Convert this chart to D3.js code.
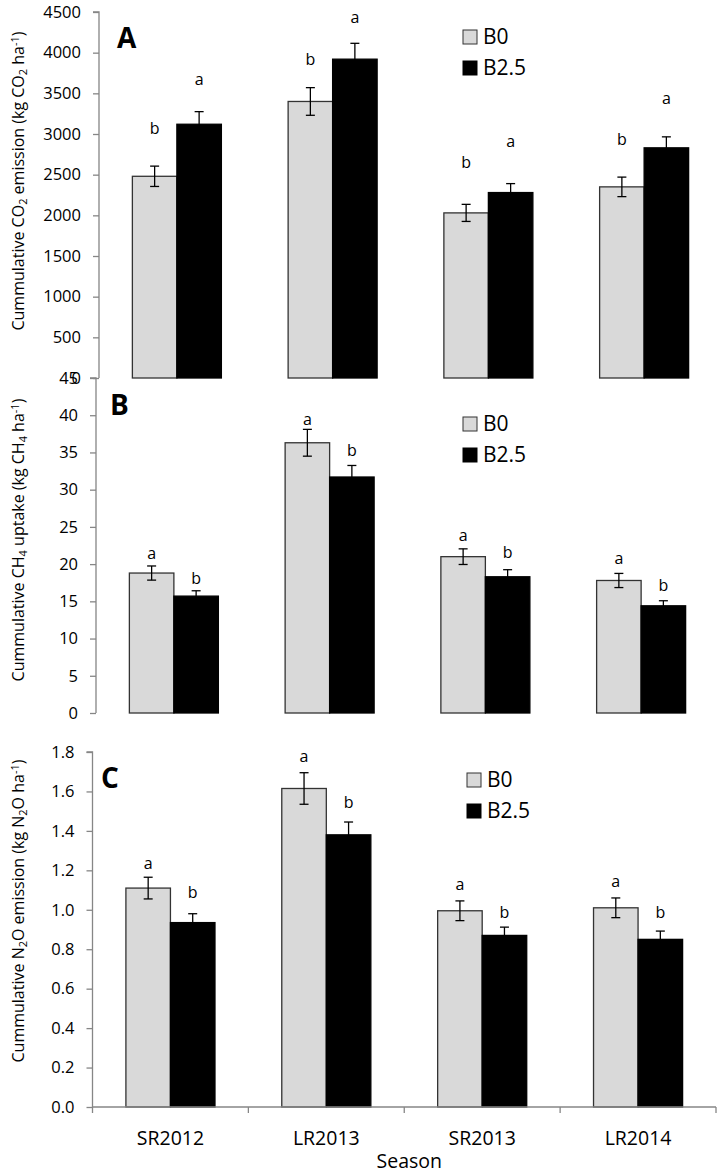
<!DOCTYPE html>
<html>
<head>
<meta charset="utf-8">
<script src="https://cdn.jsdelivr.net/npm/d3@7"></script>
<style>
  html, body { margin: 0; padding: 0; background: #fff; }
  svg { display: block; font-family: "Open Sans", "Liberation Sans", sans-serif; }
</style>
</head>
<body>
<svg id="chart" width="722" height="1176"></svg>
<script>
// ---------- DATA ----------
const seasons = ["SR2012", "LR2013", "SR2013", "LR2014"];
const seriesNames = ["B0", "B2.5"];

// Panel A: cumulative CO2 emission (kg CO2 ha-1)
const co2B0 = [2480, 3400, 2030, 2350];
const co2B25 = [3120, 3920, 2280, 2830];
const co2ErrB0 = [125, 170, 105, 120];
const co2ErrB25 = [155, 195, 110, 135];
const co2LetterB0 = ["b", "b", "b", "b"];
const co2LetterB25 = ["a", "a", "a", "a"];
const co2LetterAtB0 = [3074, 3922, 2656, 2939];
const co2LetterAtB25 = [3676, 4439, 2914, 3443];
const co2Ticks = [0, 500, 1000, 1500, 2000, 2500, 3000, 3500, 4000, 4500];

// Panel B: cumulative CH4 uptake (kg CH4 ha-1)
const ch4B0 = [18.8, 36.3, 21.0, 17.8];
const ch4B25 = [15.7, 31.7, 18.3, 14.4];
const ch4ErrB0 = [0.95, 1.8, 1.05, 0.95];
const ch4ErrB25 = [0.72, 1.55, 0.95, 0.68];
const ch4LetterB0 = ["a", "a", "a", "a"];
const ch4LetterB25 = ["b", "b", "b", "b"];
const ch4LetterAtB0 = [21.5, 39.45, 23.9, 20.8];
const ch4LetterAtB25 = [18.1, 35.3, 21.6, 17.2];
const ch4Ticks = [0, 5, 10, 15, 20, 25, 30, 35, 40, 45];

// Panel C: cumulative N2O emission (kg N2O ha-1)
const n2oB0 = [1.11, 1.615, 0.995, 1.01];
const n2oB25 = [0.935, 1.38, 0.87, 0.85];
const n2oErrB0 = [0.055, 0.08, 0.05, 0.05];
const n2oErrB25 = [0.045, 0.065, 0.042, 0.042];
const n2oLetterB0 = ["a", "a", "a", "a"];
const n2oLetterB25 = ["b", "b", "b", "b"];
const n2oLetterAtB0 = [1.236, 1.78, 1.129, 1.142];
const n2oLetterAtB25 = [1.089, 1.545, 0.987, 0.987];
const n2oTicks = [0, 0.2, 0.4, 0.6, 0.8, 1.0, 1.2, 1.4, 1.6, 1.8];

const xAxisTitle = "Season";

// ---------- DRAW ----------
const svg = d3.select("#chart");
const AXIS_GRAY = "#868686";
const FILLS = ["#d9d9d9", "#000000"];

function drawPanel(cfg) {
  const g = svg.append("g");
  const y = d3.scaleLinear().domain([0, d3.max(cfg.ticks)]).range([cfg.bottom, cfg.top]);
  const x0 = d3.scaleBand().domain(seasons).range([cfg.left, cfg.right]).padding(0);
  const x1 = d3.scaleBand().domain(seriesNames).range([0, x0.bandwidth()])
    .paddingInner(0).paddingOuter(0.75);

  const rows = seasons.map((s, i) => ({
    season: s,
    items: [
      { name: seriesNames[0], v: cfg.b0[i], e: cfg.e0[i], l: cfg.l0[i], la: cfg.la0[i], k: 0 },
      { name: seriesNames[1], v: cfg.b25[i], e: cfg.e25[i], l: cfg.l25[i], la: cfg.la25[i], k: 1 }
    ]
  }));

  const groups = g.selectAll("g.grp").data(rows).join("g")
    .attr("transform", d => `translate(${x0(d.season)},0)`);

  groups.selectAll("rect").data(d => d.items).join("rect")
    .attr("x", d => x1(d.name))
    .attr("width", x1.bandwidth())
    .attr("y", d => y(d.v))
    .attr("height", d => y(0) - y(d.v))
    .attr("fill", d => FILLS[d.k])
    .attr("stroke", d => d.k === 0 ? "#333" : "#000")
    .attr("stroke-width", 1.3);

  // error bars
  const eb = groups.selectAll("g.eb").data(d => d.items).join("g").attr("class", "eb");
  eb.append("line")
    .attr("x1", d => x1(d.name) + x1.bandwidth() / 2)
    .attr("x2", d => x1(d.name) + x1.bandwidth() / 2)
    .attr("y1", d => y(d.v + d.e)).attr("y2", d => y(d.v - d.e))
    .attr("stroke", "#000").attr("stroke-width", 1.3);
  [1, -1].forEach(sgn => {
    eb.append("line")
      .attr("x1", d => x1(d.name) + x1.bandwidth() / 2 - 4.5)
      .attr("x2", d => x1(d.name) + x1.bandwidth() / 2 + 4.5)
      .attr("y1", d => y(d.v + sgn * d.e)).attr("y2", d => y(d.v + sgn * d.e))
      .attr("stroke", "#000").attr("stroke-width", 1.3);
  });

  // significance letters
  groups.selectAll("text.sig").data(d => d.items).join("text")
    .attr("class", "sig")
    .attr("x", d => x1(d.name) + x1.bandwidth() / 2)
    .attr("y", d => y(d.la))
    .attr("dy", "0.35em")
    .attr("text-anchor", "middle")
    .attr("font-size", 16)
    .attr("fill", "#000")
    .text(d => d.l);

  // y axis
  const yAxis = d3.axisLeft(y).tickValues(cfg.ticks).tickSize(6).tickPadding(12)
    .tickFormat(cfg.fmt);
  const ya = g.append("g").attr("transform", `translate(${cfg.left},0)`).call(yAxis);
  ya.select(".domain").attr("stroke", AXIS_GRAY).attr("stroke-width", 1.3)
    .attr("d", `M-6,${cfg.top}H0V${cfg.bottom}`);
  ya.selectAll(".tick line").attr("stroke", AXIS_GRAY).attr("stroke-width", 1.3);
  ya.selectAll(".tick text").attr("font-size", 16.5).attr("fill", "#000")
    .attr("font-family", "Open Sans, sans-serif");

  // x axis (only bottom panel)
  if (cfg.xAxis) {
    const xa = g.append("g").attr("transform", `translate(0,${cfg.bottom})`);
    xa.append("line").attr("x1", cfg.left).attr("x2", cfg.right)
      .attr("stroke", AXIS_GRAY).attr("stroke-width", 1.3);
    const bounds = seasons.map(s => x0(s)).concat([cfg.right]);
    xa.selectAll("line.tk").data(bounds).join("line").attr("class", "tk")
      .attr("x1", d => d).attr("x2", d => d).attr("y1", 0).attr("y2", 6)
      .attr("stroke", AXIS_GRAY).attr("stroke-width", 1.3);
    xa.selectAll("text.lbl").data(seasons).join("text").attr("class", "lbl")
      .attr("x", d => x0(d) + x0.bandwidth() / 2)
      .attr("y", 38)
      .attr("text-anchor", "middle").attr("font-size", 19.5).attr("fill", "#000")
      .text(d => d);
    xa.append("text")
      .attr("x", (cfg.left + cfg.right) / 2 + 5)
      .attr("y", 61)
      .attr("text-anchor", "middle").attr("font-size", 19.5).attr("fill", "#000")
      .text(xAxisTitle);
  }

  // y title
  const t = g.append("text")
    .attr("transform", `translate(24,${cfg.titleY}) rotate(-90)`)
    .attr("text-anchor", "middle").attr("font-size", 16).attr("fill", "#000");
  cfg.title.forEach(part => {
    const ts = t.append("tspan").text(part.t);
    if (part.s === "sub") ts.attr("baseline-shift", "-25%").attr("font-size", 11);
    if (part.s === "sup") ts.attr("baseline-shift", "45%").attr("font-size", 11);
  });

  // panel letter
  g.append("text").attr("x", cfg.letterX).attr("y", cfg.letterY)
    .attr("font-size", 28).attr("font-weight", "bold").attr("fill", "#000")
    .text(cfg.letter);

  // legend
  const lg = g.append("g").attr("transform", `translate(${cfg.legX},${cfg.legY})`);
  seriesNames.forEach((n, i) => {
    lg.append("rect").attr("x", 0).attr("y", i * 31 - 7).attr("width", 14).attr("height", 14)
      .attr("fill", FILLS[i]).attr("stroke", i === 0 ? "#333" : "#000").attr("stroke-width", 1);
    lg.append("text").attr("x", 20).attr("y", i * 31).attr("dy", "0.35em")
      .attr("font-size", 21).attr("fill", "#000").text(n);
  });
}

drawPanel({
  top: 12, bottom: 378, left: 99, right: 722, ticks: co2Ticks, fmt: d3.format("d"),
  b0: co2B0, b25: co2B25, e0: co2ErrB0, e25: co2ErrB25,
  l0: co2LetterB0, l25: co2LetterB25, la0: co2LetterAtB0, la25: co2LetterAtB25,
  title: [{t: "Cummulative CO"}, {t: "2", s: "sub"}, {t: " emission (kg CO"}, {t: "2", s: "sub"},
          {t: " ha"}, {t: "-1", s: "sup"}, {t: ")"}],
  titleY: 181, letter: "A", letterX: 117, letterY: 48, legX: 463, legY: 37, xAxis: false
});

drawPanel({
  top: 378, bottom: 713, left: 96, right: 719, ticks: ch4Ticks, fmt: d3.format("d"),
  b0: ch4B0, b25: ch4B25, e0: ch4ErrB0, e25: ch4ErrB25,
  l0: ch4LetterB0, l25: ch4LetterB25, la0: ch4LetterAtB0, la25: ch4LetterAtB25,
  title: [{t: "Cummulative CH"}, {t: "4", s: "sub"}, {t: " uptake (kg CH"}, {t: "4", s: "sub"},
          {t: " ha"}, {t: "-1", s: "sup"}, {t: ")"}],
  titleY: 540, letter: "B", letterX: 110, letterY: 415, legX: 463, legY: 424, xAxis: false
});

drawPanel({
  top: 752, bottom: 1107, left: 92.5, right: 716, ticks: n2oTicks, fmt: d3.format(".1f"),
  b0: n2oB0, b25: n2oB25, e0: n2oErrB0, e25: n2oErrB25,
  l0: n2oLetterB0, l25: n2oLetterB25, la0: n2oLetterAtB0, la25: n2oLetterAtB25,
  title: [{t: "Cummulative N"}, {t: "2", s: "sub"}, {t: "O emission (kg N"}, {t: "2", s: "sub"},
          {t: "O ha"}, {t: "-1", s: "sup"}, {t: ")"}],
  titleY: 911, letter: "C", letterX: 101, letterY: 788, legX: 467, legY: 780, xAxis: true
});
</script>
</body>
</html>
